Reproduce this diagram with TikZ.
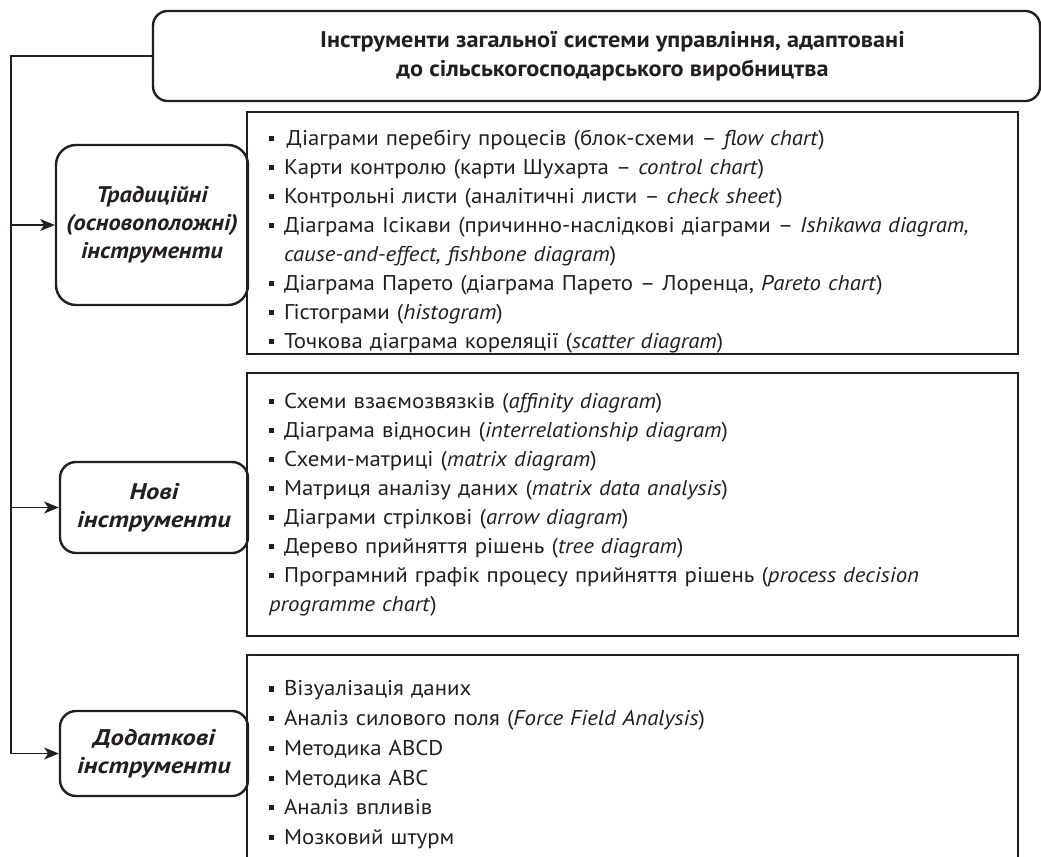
\documentclass[tikz,border=0pt]{standalone}
\usepackage{fontspec}
\setmainfont{PT Sans}[FakeStretch=1.07]
\newfontfamily\nodefontA{PT Sans}[FakeStretch=1.08]
\newfontfamily\nodefontB{PT Sans}[FakeStretch=1.17]
\usetikzlibrary{arrows.meta}
\definecolor{ink}{HTML}{231F20}
\newcommand{\bul}{\par\noindent\hangindent=11.25pt\hangafter=1\strut\makebox[11.25pt][l]{\raisebox{0.2em}{\rule{3.8pt}{3.8pt}}}}
\begin{document}
\begin{tikzpicture}[x=0.75pt,y=-0.75pt,
  font=\fontsize{16pt}{21.75pt}\selectfont,
  every node/.style={text=ink},
  listbox/.style={draw=ink, line width=1.8pt, inner sep=0pt, minimum width=578.25pt},
  listtext/.style={anchor=north west, inner sep=0pt, text width=575pt, align=left},
  rbox/.style={draw=ink, line width=1.8pt, align=center, inner sep=0pt,
     font=\nodefontB\fontsize{17pt}{21pt}\selectfont\bfseries\itshape},
  conn/.style={draw=ink, line width=0.8pt},
  arr/.style={conn, -{Stealth[length=11pt,width=9pt,inset=3pt]}}]
\clip (0,0) rectangle (1041,856);
\fill[white] (0,0) rectangle (1041,856);
% title
\node[draw=ink, line width=1.8pt, rounded corners=11pt, minimum width=665.25pt, minimum height=67.5pt,
      inner sep=0pt, align=center, font=\fontsize{17pt}{21.75pt}\selectfont\bfseries]
  (title) at (596.5,56) {\hspace*{24pt}Інструменти загальної системи управління, адаптовані\\
  \hspace*{24pt}до сільськогосподарського виробництва};
% left nodes
\node[rbox, font=\nodefontA\fontsize{17pt}{21pt}\selectfont\bfseries\itshape,
      rounded corners=15pt, minimum width=144pt, minimum height=120pt] (n1) at (152,225)
  {Традиційні\\(основоположні)\\інструменти};
\node[rbox, rounded corners=12pt, minimum width=141pt, minimum height=68.25pt] (n2) at (154,507.5)
  {Нові\\інструменти};
\node[rbox, rounded corners=12pt, minimum width=141pt, minimum height=63.75pt] (n3) at (154,753.5)
  {Додаткові\\інструменти};
% list boxes
\node[listbox, minimum height=181.5pt] (b1) at (632.5,233) {};
\node[listbox, minimum height=197.25pt] (b2) at (632.5,504.5) {};
\node[listbox, minimum height=168.75pt] (b3) at (632.5,767.5) {};
\node[listtext] (t1) at ([shift={(23,5.5)}]b1.north west) {%
\bul\hspace{2pt}Діаграми перебігу процесів (блок-схеми – \textit{flow chart})
\bul Карти контролю (карти Шухарта – \textit{control chart})
\bul Контрольні листи (аналітичні листи – \textit{check sheet})
\bul Діаграма Ісікави (причинно-наслідкові діаграми – \textit{Ishikawa diagram,}\newline\strut\textit{cause-and-effect, fishbone diagram})
\bul Діаграма Парето (діаграма Парето – Лоренца, \textit{Pareto chart})
\bul Гістограми (\textit{histogram})
\bul Точкова діаграма кореляції (\textit{scatter diagram})};
\node[listtext] (t2) at ([shift={(23,7)}]b2.north west) {%
\bul Схеми взаємозвязків (\textit{affinity diagram})
\bul Діаграма відносин (\textit{interrelationship diagram})
\bul Схеми-матриці (\textit{matrix diagram})
\bul Матриця аналізу даних (\textit{matrix data analysis})
\bul Діаграми стрілкові (\textit{arrow diagram})
\bul Дерево прийняття рішень (\textit{tree diagram})
\bul Програмний графік процесу прийняття рішень (\textit{process decision}\newline\strut\textit{programme chart})};
\node[listtext, font=\fontsize{16pt}{22.3pt}\selectfont] (t3) at ([shift={(23,12)}]b3.north west) {%
\bul Візуалізація даних
\bul Аналіз силового поля (\textit{Force Field Analysis})
\bul Методика ABCD
\bul Методика ABC
\bul Аналіз впливів
\bul Мозковий штурм};
% connectors
\coordinate (spine) at (11,56);
\draw[arr] (title.west) -| (spine |- n3.west) -- (n3.west);
\draw[arr] (spine |- n1.west) -- (n1.west);
\draw[arr] (spine |- n2.west) -- (n2.west);
\end{tikzpicture}
\end{document}
